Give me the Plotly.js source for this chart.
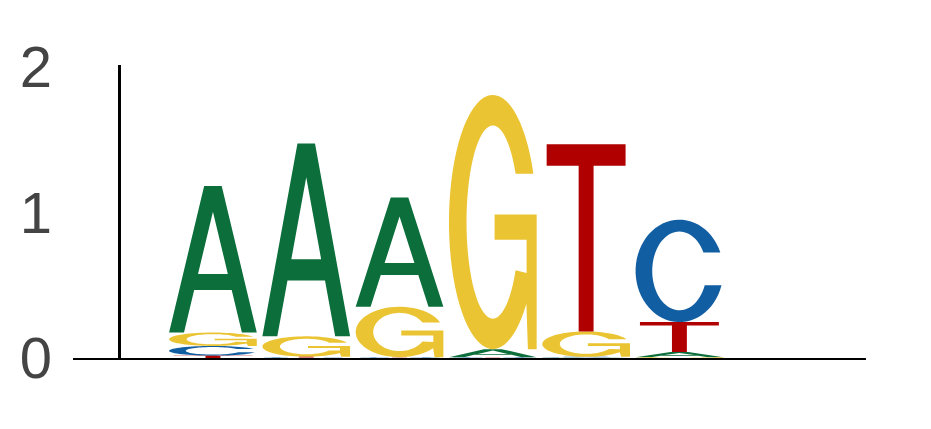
<!DOCTYPE html>
<html>
<head>
<meta charset="utf-8">
<script src="https://cdn.plot.ly/plotly-3.0.1.min.js"></script>
<style>
  html, body { margin: 0; padding: 0; background: #fff; }
  #logo { width: 931px; height: 429px; }
</style>
</head>
<body>
<div id="logo"></div>
<script>
const positions = [1, 2, 3, 4, 5, 6];
const bases = ["A", "C", "G", "T"];
const heightA = [1.008, 1.326, 0.752, 0.055, 0.004, 0.035];
const heightC = [0.067, 0.004, 0.003, 0.003, 0.004, 0.704];
const heightG = [0.092, 0.14, 0.346, 1.748, 0.175, 0.006];
const heightT = [0.016, 0.005, 0.003, 0.003, 1.287, 0.206];
const yTicks = [0, 1, 2];

const colors = { A: "#0b6e3b", C: "#125ea2", G: "#ebc433", T: "#b10000" };
const heights = { A: heightA, C: heightC, G: heightG, T: heightT };
const letterWidth = 0.94;

function arc(rx, ry, a0, a1, n) {
  const pts = [];
  for (let i = 0; i <= n; i++) {
    const a = a0 + ((a1 - a0) * i) / n;
    pts.push([0.5 + rx * Math.cos(a), 0.5 + ry * Math.sin(a)]);
  }
  return pts;
}

function cOutline() {
  const top = 0.68, bot = 0.36;
  const outer = arc(0.5, 0.5, Math.asin((top - 0.5) / 0.5), 2 * Math.PI + Math.asin((bot - 0.5) / 0.5), 60);
  const inner = arc(0.31, 0.385, 2 * Math.PI + Math.asin((bot - 0.5) / 0.385), Math.asin((top - 0.5) / 0.385), 60);
  return outer.concat(inner);
}

function gOutline() {
  const top = 0.69;
  const deg = Math.PI / 180;
  const outer = arc(0.5, 0.5, Math.asin((top - 0.5) / 0.5), 320 * deg, 60);
  const spur = [[0.9, 0], [1, 0], [1, 0.53], [0.52, 0.53], [0.52, 0.43], [0.885, 0.43], [0.885, 0.3]];
  const inner = arc(0.3, 0.38, 330 * deg, Math.asin((top - 0.5) / 0.38), 60);
  return outer.concat(spur, inner);
}

// glyph rings in a unit box; holes wind the other way
const glyphs = {
  A: [
    [[0, 0], [0.4, 1], [0.6, 1], [1, 0], [0.83, 0], [0.714, 0.29], [0.286, 0.29], [0.17, 0]],
    [[0.33, 0.4], [0.67, 0.4], [0.5, 0.825]],
  ],
  C: [cOutline()],
  G: [gOutline()],
  T: [[[0.05, 1], [0.95, 1], [0.95, 0.885], [0.585, 0.885], [0.585, 0], [0.415, 0], [0.415, 0.885], [0.05, 0.885]]],
};

const xs = { A: [], C: [], G: [], T: [] };
const ys = { A: [], C: [], G: [], T: [] };

positions.forEach((pos, i) => {
  // smallest letter at the bottom of the stack
  const column = bases
    .map((b) => ({ base: b, h: heights[b][i] }))
    .sort((p, q) => p.h - q.h);
  let bottom = 0;
  column.forEach(({ base, h }) => {
    glyphs[base].forEach((ring) => {
      ring.forEach(([gx, gy]) => {
        xs[base].push(pos - letterWidth / 2 + gx * letterWidth);
        ys[base].push(bottom + gy * h);
      });
      xs[base].push(null);
      ys[base].push(null);
    });
    bottom += h;
  });
});

const traces = bases.map((b) => ({
  type: "scatter",
  x: xs[b],
  y: ys[b],
  mode: "lines",
  fill: "toself",
  fillcolor: colors[b],
  line: { width: 0, color: colors[b], simplify: false },
  hoverinfo: "skip",
  showlegend: false,
}));

Plotly.newPlot(
  "logo",
  traces,
  {
    width: 931,
    height: 429,
    margin: { l: 73, r: 65, t: 65, b: 71 },
    paper_bgcolor: "#fff",
    plot_bgcolor: "#fff",
    showlegend: false,
    xaxis: {
      range: [-0.5, 8],
      showgrid: false,
      showticklabels: false,
      ticks: "",
      zeroline: true,
      zerolinecolor: "#000",
      zerolinewidth: 2.5,
      showline: true,
      linecolor: "#000",
      linewidth: 1.5,
    },
    yaxis: {
      range: [0, 2.015],
      tickvals: yTicks,
      ticktext: yTicks.map(String),
      showgrid: false,
      zeroline: false,
      showline: false,
      ticks: "",
      ticklabelstandoff: 20,
      tickfont: { family: "Liberation Sans, Arial, sans-serif", size: 58, color: "#444" },
    },
  },
  { staticPlot: true }
);
</script>
</body>
</html>
